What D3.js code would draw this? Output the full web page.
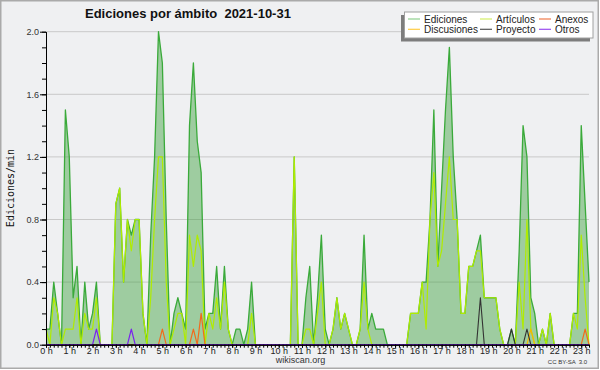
<!DOCTYPE html>
<html>
<head>
<meta charset="utf-8">
<script src="https://cdn.jsdelivr.net/npm/d3@7"></script>
<style>
  body { margin: 0; background: #fff; }
  svg { display: block; }
</style>
</head>
<body>
<svg id="chart" width="600" height="370"></svg>
<script>
// chart data, one value every 10 minutes (0:00 .. 23:20)
var title = 'Ediciones por ámbito  2021-10-31';
var yLabel = 'Ediciones/min';
var stepMinutes = 10;
var hourLabels = ['0 h', '1 h', '2 h', '3 h', '4 h', '5 h', '6 h', '7 h', '8 h', '9 h', '10 h', '11 h',
  '12 h', '13 h', '14 h', '15 h', '16 h', '17 h', '18 h', '19 h', '20 h', '21 h', '22 h', '23 h'];
var yTicks = [0.0, 0.4, 0.8, 1.2, 1.6, 2.0];

var ediciones = [
  0.1, 0.1, 0.4, 0.2, 0.0, 1.5, 1.2, 0.3, 0.5, 0.0,
  0.4, 0.1, 0.2, 0.4, 0.0, 0.0, 0.0, 0.0, 0.9, 1.0,
  0.4, 0.8, 0.7, 0.8, 0.8, 0.2, 0.0, 0.7, 1.2, 2.0,
  1.8, 0.8, 0.0, 0.2, 0.3, 0.2, 0.1, 1.4, 1.8, 1.3,
  1.1, 0.1, 0.2, 0.2, 0.5, 0.1, 0.5, 0.1, 0.0, 0.1,
  0.1, 0.0, 0.1, 0.4, 0.0, 0.0, 0.0, 0.0, 0.0, 0.0,
  0.0, 0.0, 0.0, 0.0, 1.2, 0.0, 0.0, 0.3, 0.5, 0.0,
  0.3, 0.7, 0.1, 0.0, 0.1, 0.3, 0.1, 0.2, 0.1, 0.0,
  0.0, 0.1, 0.7, 0.1, 0.2, 0.1, 0.1, 0.1, 0.0, 0.0,
  0.0, 0.0, 0.0, 0.0, 0.2, 0.2, 0.2, 0.4, 0.4, 0.8,
  1.5, 0.5, 1.0, 1.5, 1.9, 1.2, 0.8, 0.2, 0.2, 0.5,
  0.5, 0.6, 0.7, 0.3, 0.3, 0.3, 0.3, 0.1, 0.0, 0.0,
  0.1, 0.0, 0.6, 1.4, 1.2, 0.3, 0.2, 0.0, 0.1, 0.0,
  0.2, 0.0, 0.0, 0.0, 0.0, 0.0, 0.2, 0.2, 1.4, 0.9,
  0.4
];
var articulos = [
  0.1, 0.0, 0.3, 0.2, 0.0, 0.1, 0.1, 0.1, 0.3, 0.0,
  0.2, 0.1, 0.1, 0.3, 0.0, 0.0, 0.0, 0.0, 0.9, 1.0,
  0.4, 0.8, 0.6, 0.8, 0.8, 0.2, 0.0, 0.3, 0.8, 1.2,
  1.2, 0.4, 0.0, 0.1, 0.2, 0.2, 0.0, 0.7, 0.5, 0.7,
  0.6, 0.0, 0.2, 0.1, 0.3, 0.1, 0.4, 0.1, 0.0, 0.0,
  0.0, 0.0, 0.0, 0.2, 0.0, 0.0, 0.0, 0.0, 0.0, 0.0,
  0.0, 0.0, 0.0, 0.0, 1.2, 0.0, 0.0, 0.1, 0.1, 0.0,
  0.2, 0.4, 0.0, 0.0, 0.1, 0.3, 0.1, 0.2, 0.1, 0.0,
  0.0, 0.1, 0.4, 0.1, 0.0, 0.0, 0.0, 0.0, 0.0, 0.0,
  0.0, 0.0, 0.0, 0.0, 0.2, 0.2, 0.2, 0.4, 0.1, 0.8,
  1.1, 0.5, 0.6, 0.9, 1.2, 0.8, 0.8, 0.2, 0.2, 0.5,
  0.5, 0.6, 0.6, 0.3, 0.3, 0.3, 0.3, 0.1, 0.0, 0.0,
  0.0, 0.0, 0.4, 0.1, 0.8, 0.1, 0.0, 0.0, 0.1, 0.0,
  0.2, 0.0, 0.0, 0.0, 0.0, 0.0, 0.2, 0.1, 0.7, 0.3,
  0.0
];
var anexos = [
  0, 0, 0, 0, 0, 0, 0, 0, 0, 0,
  0, 0, 0, 0, 0, 0, 0, 0, 0, 0,
  0, 0, 0, 0, 0, 0, 0, 0, 0, 0,
  0.1, 0, 0, 0, 0, 0, 0, 0, 0.1, 0,
  0.2, 0, 0, 0, 0, 0, 0, 0, 0, 0,
  0, 0, 0, 0, 0, 0, 0, 0, 0, 0,
  0, 0, 0, 0, 0, 0, 0, 0, 0, 0,
  0, 0, 0, 0, 0, 0, 0, 0, 0, 0,
  0, 0, 0, 0, 0, 0, 0, 0, 0, 0,
  0, 0, 0, 0, 0, 0, 0, 0, 0, 0,
  0, 0, 0, 0, 0, 0, 0, 0, 0, 0,
  0, 0, 0, 0, 0, 0, 0, 0, 0, 0,
  0, 0, 0, 0, 0, 0, 0, 0, 0, 0,
  0, 0, 0, 0, 0, 0, 0, 0, 0, 0.1,
  0
];
var discusiones = [
  0, 0, 0, 0, 0, 0, 0, 0, 0, 0,
  0, 0, 0, 0, 0, 0, 0, 0, 0, 0,
  0, 0, 0, 0, 0, 0, 0, 0, 0, 0,
  0, 0, 0, 0, 0, 0, 0, 0, 0, 0,
  0, 0, 0, 0, 0, 0, 0, 0, 0, 0,
  0, 0, 0, 0, 0, 0, 0, 0, 0, 0,
  0, 0, 0, 0, 0, 0, 0, 0, 0, 0,
  0, 0, 0, 0, 0, 0, 0, 0, 0, 0,
  0, 0, 0, 0, 0, 0, 0, 0, 0, 0,
  0, 0, 0, 0, 0, 0, 0, 0, 0, 0,
  0, 0, 0, 0, 0, 0, 0, 0, 0, 0,
  0, 0, 0, 0, 0, 0, 0, 0, 0, 0,
  0, 0, 0, 0, 0, 0.1, 0, 0, 0, 0,
  0, 0, 0, 0, 0, 0, 0, 0, 0, 0,
  0
];
var proyecto = [
  0, 0, 0, 0, 0, 0, 0, 0, 0, 0,
  0, 0, 0, 0, 0, 0, 0, 0, 0, 0,
  0, 0, 0, 0, 0, 0, 0, 0, 0, 0,
  0, 0, 0, 0, 0, 0, 0, 0, 0, 0,
  0, 0, 0, 0, 0, 0, 0, 0, 0, 0,
  0, 0, 0, 0, 0, 0, 0, 0, 0, 0,
  0, 0, 0, 0, 0, 0, 0, 0, 0, 0,
  0, 0, 0, 0, 0, 0, 0, 0, 0, 0,
  0, 0, 0, 0, 0, 0, 0, 0, 0, 0,
  0, 0, 0, 0, 0, 0, 0, 0, 0, 0,
  0, 0, 0, 0, 0, 0, 0, 0, 0, 0,
  0, 0, 0.3, 0, 0, 0, 0, 0, 0, 0,
  0.1, 0, 0, 0, 0.1, 0, 0, 0, 0, 0,
  0, 0, 0, 0, 0, 0, 0, 0, 0, 0,
  0
];
var otros = [
  0, 0, 0, 0, 0, 0, 0, 0, 0, 0,
  0, 0, 0, 0.1, 0, 0, 0, 0, 0, 0,
  0, 0, 0.1, 0, 0, 0, 0, 0, 0, 0,
  0, 0, 0, 0, 0, 0, 0, 0, 0, 0,
  0, 0, 0, 0, 0, 0, 0, 0, 0, 0,
  0, 0, 0, 0, 0, 0, 0, 0, 0, 0,
  0, 0, 0, 0, 0, 0, 0, 0, 0, 0,
  0, 0, 0, 0, 0, 0, 0, 0, 0, 0,
  0, 0, 0, 0, 0, 0, 0, 0, 0, 0,
  0, 0, 0, 0, 0, 0, 0, 0, 0, 0,
  0, 0, 0, 0, 0, 0, 0, 0, 0, 0,
  0, 0, 0, 0, 0, 0, 0, 0, 0, 0,
  0, 0, 0, 0, 0, 0, 0, 0, 0, 0,
  0, 0, 0, 0, 0, 0, 0, 0, 0, 0,
  0
];

// legend order: row by row, 3 columns
var legendNames = ['Ediciones', 'Artículos', 'Anexos', 'Discusiones', 'Proyecto', 'Otros'];
var legendColors = ['#8fd08f', '#d4ee66', '#f07a4a', '#ffcc44', '#555555', '#9a4cf0'];

var margin = {left: 46, right: 11, top: 31.7, bottom: 25.3};
var W = 600, H = 370;
var font = '"Liberation Sans", Arial, sans-serif';

var svg = d3.select('#chart');

// background + frame
svg.append('rect')
  .attr('x', 0.75).attr('y', 0.75)
  .attr('width', 597.5).attr('height', 367.5)
  .attr('fill', '#eff0f2')
  .attr('stroke', '#aaaaaa')
  .attr('stroke-width', 1.5);

var maxMin = (ediciones.length - 1) * stepMinutes;
var xScale = d3.scaleLinear()
  .domain([0, maxMin])
  .range([margin.left, W - margin.right]);

var yScale = d3.scaleLinear()
  .domain([0, 2])
  .range([H - margin.bottom, margin.top]);

var tMin = function(d, i) { return xScale(i * stepMinutes); };

// gridlines
svg.append('g')
  .selectAll('line')
  .data(yTicks.filter(function(t) { return t > 0; }))
  .enter()
  .append('line')
  .attr('x1', xScale(0))
  .attr('x2', xScale(maxMin))
  .attr('y1', function(d) { return yScale(d); })
  .attr('y2', function(d) { return yScale(d); })
  .attr('stroke', '#c9c9c9')
  .attr('stroke-width', 1);

// ediciones area
var area = d3.area()
  .x(tMin)
  .y0(yScale(0))
  .y1(function(d) { return yScale(d); });

svg.append('path')
  .datum(ediciones)
  .attr('d', area)
  .attr('fill', 'rgba(60,160,60,0.45)');

function drawLine(values, color, width) {
  var line = d3.line()
    .x(tMin)
    .y(function(d) { return yScale(d); });
  svg.append('path')
    .datum(values)
    .attr('d', line)
    .attr('fill', 'none')
    .attr('stroke', color)
    .attr('stroke-width', width)
    .attr('stroke-linejoin', 'round');
}

drawLine(ediciones, '#3aaa3a', 1.3);
drawLine(articulos, '#b0ec00', 1.2);
drawLine(discusiones, '#f5b800', 1.2);
drawLine(anexos, '#f26a1b', 1.2);
drawLine(proyecto, '#333333', 1.1);
drawLine(otros, '#7a22ee', 1.2);

// y axis
var yAxis = d3.axisLeft(yScale)
  .tickValues(yTicks)
  .tickSize(6)
  .tickSizeOuter(0)
  .tickPadding(1)
  .tickFormat(d3.format('.1f'));

var yMinor = d3.axisLeft(yScale)
  .tickValues(d3.range(0, 21).map(function(k) { return k / 10; }))
  .tickSize(4)
  .tickSizeOuter(0)
  .tickFormat('');

svg.append('g')
  .attr('transform', 'translate(' + margin.left + ',0)')
  .call(yMinor);

var gy = svg.append('g')
  .attr('transform', 'translate(' + margin.left + ',0)')
  .call(yAxis);
gy.selectAll('text')
  .attr('font-family', font)
  .attr('font-size', 9)
  .attr('fill', '#333');

// x axis
var xAxis = d3.axisBottom(xScale)
  .tickValues(hourLabels.map(function(d, i) { return i * 60; }))
  .tickSize(3)
  .tickSizeOuter(0)
  .tickPadding(0)
  .tickFormat(function(d, i) { return hourLabels[i]; });

var xMinor = d3.axisBottom(xScale)
  .tickValues(ediciones.map(function(d, i) { return i * stepMinutes; }))
  .tickSize(3)
  .tickSizeOuter(0)
  .tickFormat('');

svg.append('g')
  .attr('transform', 'translate(0,' + yScale(0) + ')')
  .call(xMinor);

var gx = svg.append('g')
  .attr('transform', 'translate(0,' + yScale(0) + ')')
  .call(xAxis);
gx.selectAll('text')
  .attr('font-family', font)
  .attr('font-size', 9)
  .attr('fill', '#222');

svg.selectAll('.domain, .tick line').attr('stroke', '#000');

// title
svg.append('text')
  .attr('x', 85)
  .attr('y', 18)
  .style('white-space', 'pre')
  .attr('font-family', font)
  .attr('font-weight', 'bold')
  .attr('font-size', 13)
  .attr('fill', '#111')
  .text(title);

// y label
svg.append('text')
  .attr('transform', 'translate(14,' + 188 + ') rotate(-90)')
  .attr('text-anchor', 'middle')
  .attr('font-family', '"DejaVu Sans Mono", monospace')
  .attr('font-size', 10)
  .attr('fill', '#111')
  .text(yLabel);

// footer
svg.append('text')
  .attr('x', 300.5).attr('y', 362.5)
  .attr('text-anchor', 'middle')
  .attr('font-family', font)
  .attr('font-size', 9)
  .attr('fill', '#333')
  .text('wikiscan.org');

svg.append('text')
  .attr('x', 587).attr('y', 364)
  .attr('text-anchor', 'end')
  .attr('font-family', font)
  .attr('font-size', 6)
  .attr('fill', '#333')
  .style('white-space', 'pre')
  .text('CC BY-SA  3.0');

// legend box with shadow
svg.append('rect')
  .attr('x', 401).attr('y', 15)
  .attr('width', 189).attr('height', 26.5)
  .attr('fill', '#7d7d7d');
svg.append('rect')
  .attr('x', 404.5).attr('y', 12)
  .attr('width', 188.5).attr('height', 26)
  .attr('fill', '#fff')
  .attr('stroke', '#a0a0a0')
  .attr('stroke-width', 1);

var colX = [408, 480, 539];
var rowY = [19, 29.3];
var leg = svg.append('g')
  .selectAll('g')
  .data(legendNames)
  .enter()
  .append('g')
  .attr('transform', function(d, i) {
    return 'translate(' + colX[i % 3] + ',' + rowY[Math.floor(i / 3)] + ')';
  });

leg.append('line')
  .attr('x1', 0).attr('x2', 12)
  .attr('stroke', function(d, i) { return legendColors[i]; })
  .attr('stroke-width', 1.2);

leg.append('text')
  .attr('x', 16)
  .attr('y', 3.5)
  .attr('font-family', font)
  .attr('font-size', 10)
  .attr('fill', '#222')
  .text(function(d) { return d; });
</script>
</body>
</html>
